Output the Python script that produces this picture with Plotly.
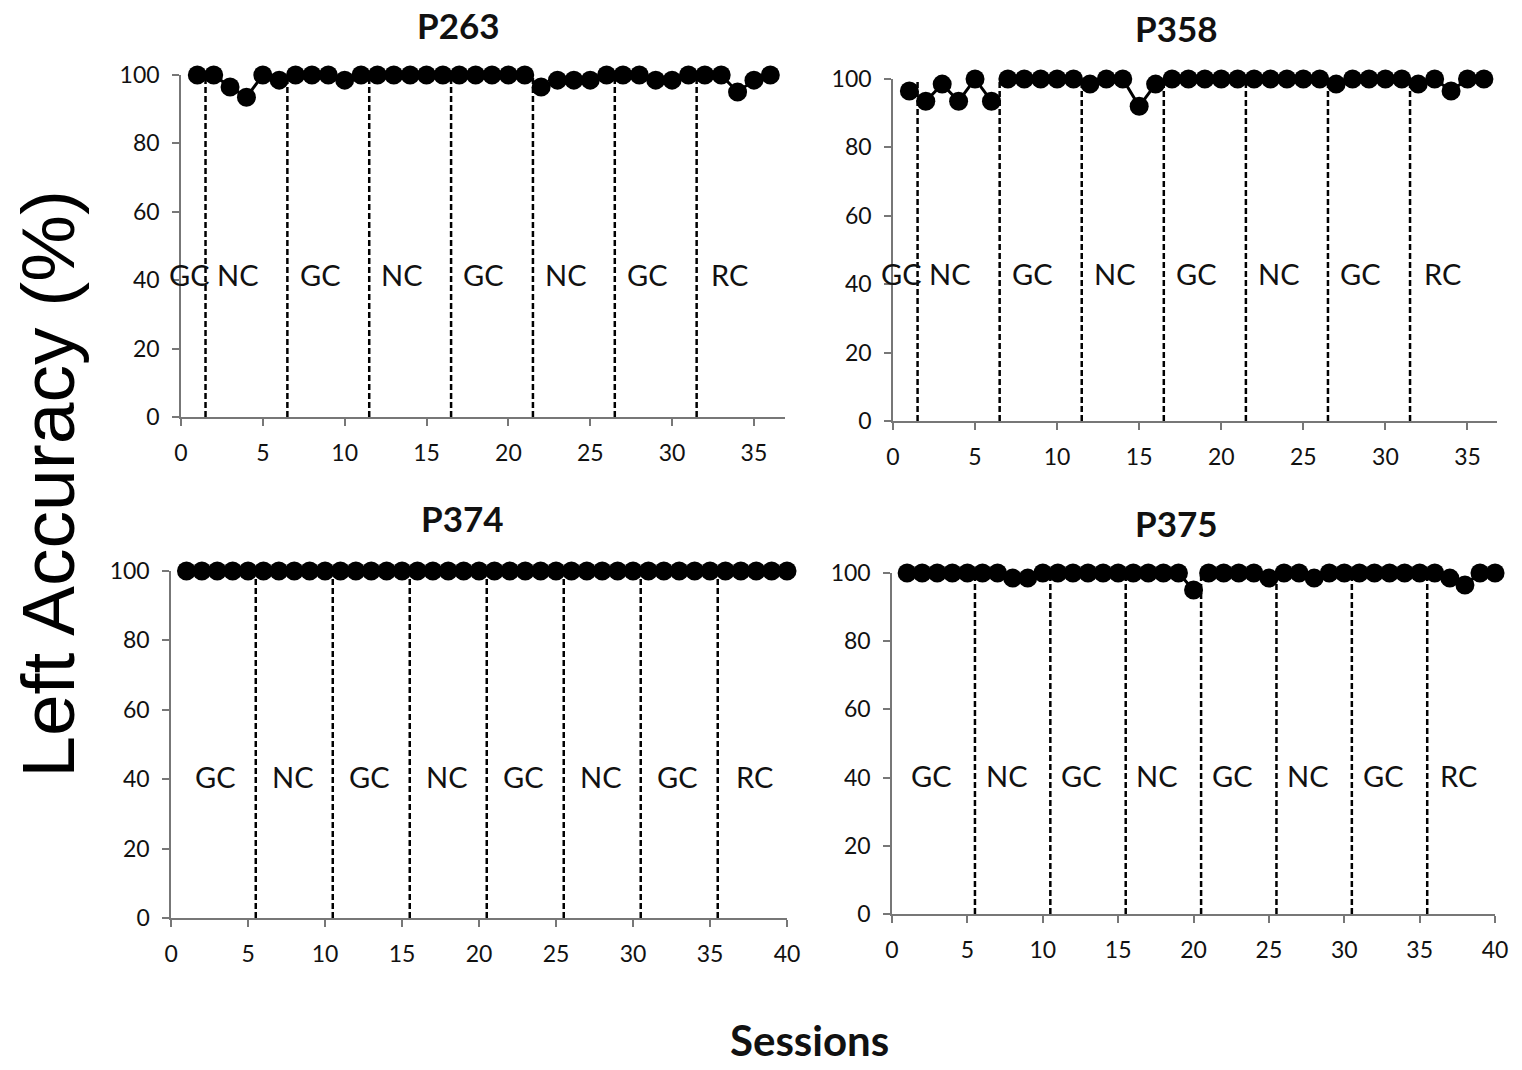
import plotly.graph_objects as go

# ---------------- data ----------------
phase_names = ["GC", "NC", "GC", "NC", "GC", "NC", "GC", "RC"]

p263_sessions = list(range(1, 37))
p263_acc = [100, 100, 96.5, 93.5, 100, 98.5, 100, 100, 100, 98.5, 100, 100,
            100, 100, 100, 100, 100, 100, 100, 100, 100, 96.5, 98.5, 98.5,
            98.5, 100, 100, 100, 98.5, 98.5, 100, 100, 100, 95, 98.5, 100]
p263_bounds = [1.5, 6.5, 11.5, 16.5, 21.5, 26.5, 31.5]

p358_sessions = list(range(1, 37))
p358_acc = [96.5, 93.5, 98.5, 93.5, 100, 93.5, 100, 100, 100, 100, 100, 98.5,
            100, 100, 92, 98.5, 100, 100, 100, 100, 100, 100, 100, 100,
            100, 100, 98.5, 100, 100, 100, 100, 98.5, 100, 96.5, 100, 100]
p358_bounds = [1.5, 6.5, 11.5, 16.5, 21.5, 26.5, 31.5]

p374_sessions = list(range(1, 41))
p374_acc = [100] * 40
p374_bounds = [5.5, 10.5, 15.5, 20.5, 25.5, 30.5, 35.5]

p375_sessions = list(range(1, 41))
p375_acc = [100, 100, 100, 100, 100, 100, 100, 98.5, 98.5, 100, 100, 100,
            100, 100, 100, 100, 100, 100, 100, 95, 100, 100, 100, 100,
            98.5, 100, 100, 98.5, 100, 100, 100, 100, 100, 100, 100, 100,
            98.5, 96.5, 100, 100]
p375_bounds = [5.5, 10.5, 15.5, 20.5, 25.5, 30.5, 35.5]

x_ticks_36 = [0, 5, 10, 15, 20, 25, 30, 35]
x_ticks_40 = [0, 5, 10, 15, 20, 25, 30, 35, 40]
y_ticks = [0, 20, 40, 60, 80, 100]

# ---------------- layout config ----------------
panels = [
    dict(name="P263", s=p263_sessions, a=p263_acc, b=p263_bounds, xmax=36.9,
         ticks=x_ticks_36, xd=[0.1189, 0.5158], yd=[0.6103, 0.9299],
         title_xy=(0.301, 0.9766), lab_y=41.8, lab_off=-0.5),
    dict(name="P358", s=p358_sessions, a=p358_acc, b=p358_bounds, xmax=36.8,
         ticks=x_ticks_36, xd=[0.5867, 0.9836], yd=[0.6065, 0.9262],
         title_xy=(0.7727, 0.9738), lab_y=43.0, lab_off=-0.5),
    dict(name="P374", s=p374_sessions, a=p374_acc, b=p374_bounds, xmax=40,
         ticks=x_ticks_40, xd=[0.1124, 0.5171], yd=[0.1421, 0.4664],
         title_xy=(0.3042, 0.5159), lab_y=40.7, lab_off=-0.1),
    dict(name="P375", s=p375_sessions, a=p375_acc, b=p375_bounds, xmax=40,
         ticks=x_ticks_40, xd=[0.5861, 0.9823], yd=[0.1458, 0.4645],
         title_xy=(0.7727, 0.5112), lab_y=40.6, lab_off=-0.4),
]

AX_COLOR = "#777777"
TICK_FONT = dict(family="Lato", size=23, color="#111111")

fig = go.Figure()
annotations = []

for i, p in enumerate(panels):
    k = "" if i == 0 else str(i + 1)
    xr, yr = "x" + k, "y" + k

    # dashed phase-change lines
    for b in p["b"]:
        fig.add_trace(go.Scatter(x=[b, b], y=[0, 100], mode="lines",
                                 line=dict(color="black", width=2.5, dash="6px,3px"),
                                 xaxis=xr, yaxis=yr, hoverinfo="skip"))

    # split sessions into phases
    edges = [0] + p["b"] + [p["xmax"] + 10]
    for j in range(len(edges) - 1):
        xs = [s for s in p["s"] if edges[j] < s < edges[j + 1]]
        ys = [a for s, a in zip(p["s"], p["a"]) if edges[j] < s < edges[j + 1]]
        fig.add_trace(go.Scatter(x=xs, y=ys, mode="lines+markers",
                                 line=dict(color="black", width=3),
                                 marker=dict(color="black", size=19, symbol="circle"),
                                 cliponaxis=False, xaxis=xr, yaxis=yr))
        lo = max(edges[j], 0.5)
        hi = min(edges[j + 1], max(p["s"]) + 0.5)
        annotations.append(dict(x=(lo + hi) / 2 + p["lab_off"], y=p["lab_y"],
                                xref=xr, yref=yr, text=phase_names[j],
                                showarrow=False, xanchor="center", yanchor="middle",
                                font=dict(family="Lato", size=29, color="#111111")))

    annotations.append(dict(x=p["title_xy"][0], y=p["title_xy"][1], xref="paper",
                            yref="paper", text="<b>%s</b>" % p["name"], showarrow=False,
                            xanchor="center", yanchor="middle",
                            font=dict(family="Lato", size=35, color="#111111")))

    fig.layout["xaxis" + k] = dict(
        domain=p["xd"], range=[0, p["xmax"]], tickvals=p["ticks"], anchor=yr,
        showline=True, linecolor=AX_COLOR, linewidth=1.5, ticks="outside",
        ticklen=7, tickwidth=1.5, tickcolor=AX_COLOR, showgrid=False,
        zeroline=False, tickfont=TICK_FONT, ticklabelstandoff=8)
    fig.layout["yaxis" + k] = dict(
        domain=p["yd"], range=[0, 100], tickvals=y_ticks, anchor=xr,
        showline=True, linecolor=AX_COLOR, linewidth=1.5, ticks="outside",
        ticklen=7, tickwidth=1.5, tickcolor=AX_COLOR, showgrid=False,
        zeroline=False, tickfont=TICK_FONT, ticklabelstandoff=8)

annotations.append(dict(x=0.532, y=0.028, xref="paper", yref="paper",
                        text="<b>Sessions</b>", showarrow=False,
                        xanchor="center", yanchor="middle",
                        font=dict(family="Lato", size=42, color="#111111")))
annotations.append(dict(x=0.031, y=0.548, xref="paper", yref="paper",
                        text="Left Accuracy (%)", textangle=-90, showarrow=False,
                        xanchor="center", yanchor="middle",
                        font=dict(family="Liberation Sans", size=75, color="black")))

fig.update_layout(width=1522, height=1070,
                  margin=dict(l=0, r=0, t=0, b=0, autoexpand=False),
                  paper_bgcolor="white", plot_bgcolor="white", showlegend=False,
                  annotations=annotations)

fig.write_html("out.html")
